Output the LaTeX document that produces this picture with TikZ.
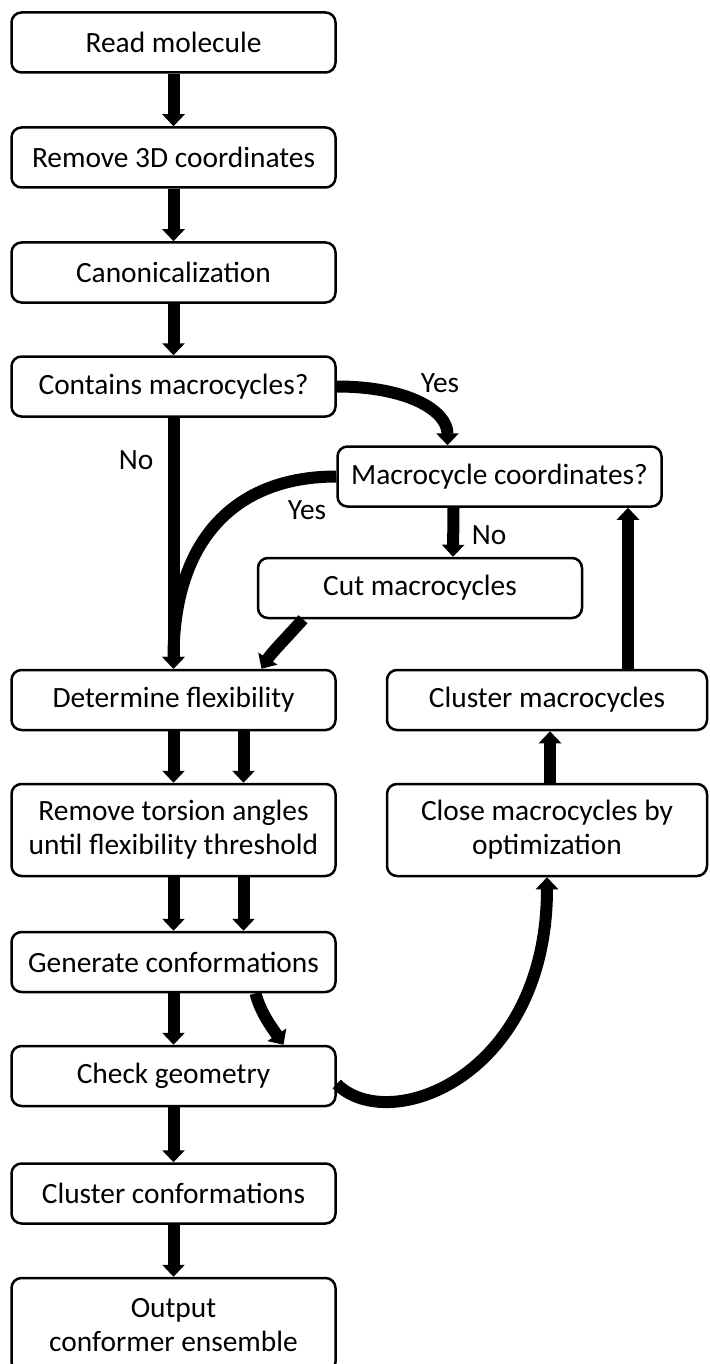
\documentclass[tikz,border=0pt]{standalone}
\usepackage{fontspec}
\setmainfont{Carlito}
\usetikzlibrary{arrows.meta}

\begin{document}
\begin{tikzpicture}[x=0.5pt,y=-0.5pt]
    \useasboundingbox (0,0) rectangle (710,1364);

    \begin{scope}[every node/.style={draw, line width=1.25pt, rounded corners=5pt,
                  minimum width=162pt, minimum height=30pt, inner sep=0pt,
                  align=center, font=\fontsize{14.7}{17}\selectfont}]
        \node (read) at (173.5,42.5) {Read molecule};
        \node (rem3d) at (173.5,157.5) {Remove 3D coordinates};
        \node (canon) at (173.5,272.5) {Canonicalization};
        \node (contains) at (173.5,386.5) {Contains macrocycles?};
        \node (mcoord) at (499.5,476.5) {Macrocycle coordinates?};
        \node (cut) at (420,588) {Cut macrocycles};
        \node (detflex) at (173.5,700) {Determine flexibility};
        \node[minimum width=160pt] (clmac) at (547,700) {Cluster macrocycles};
        \node[minimum height=46pt] (remtor) at (173.5,830) {Remove torsion angles\\until flexibility threshold};
        \node[minimum width=160pt, minimum height=46pt] (close) at (547,830) {Close macrocycles by\\optimization};
        \node (gen) at (173.5,962) {Generate conformations};
        \node (check) at (173.5,1076) {Check geometry};
        \node (clconf) at (173.5,1193.5) {Cluster conformations};
        \node[minimum height=47pt] (output) at (173.5,1325) {Output\\conformer ensemble};
    \end{scope}

    \begin{scope}[every node/.style={font=\fontsize{14.7}{17}\selectfont}]
        \node (yesa) at (440,383) {Yes};
        \node (noa) at (136,460) {No};
        \node (yesb) at (307,510) {Yes};
        \node (nob) at (489,535) {No};
    \end{scope}

    \begin{scope}[>={Triangle[width=11pt,length=6pt]},
                  every edge/.style={draw=black,line width=6pt}]
        \path [->] (read) edge (rem3d);
        \path [->] (rem3d) edge (canon);
        \path [->] (canon) edge (contains);
        \path [->] (contains) edge (detflex);
        \path [->] (detflex) edge (remtor);
        \path [->] ([xshift=35pt]detflex.south) edge ([xshift=35pt]remtor.north);
        \path [->] (remtor) edge (gen);
        \path [->] ([xshift=35pt]remtor.south) edge ([xshift=35pt]gen.north);
        \path [->] (gen) edge (check);
        \path [->] (check) edge (clconf);
        \path [->] (clconf) edge (output);
        \path [->] ([xshift=1.5pt]close.north) edge ([xshift=1.5pt]clmac.south);
        \path [->] ([xshift=40.5pt]clmac.north) edge ([xshift=64.25pt]mcoord.south);
        \path [->] ([xshift=-23pt]mcoord.south) edge ([xshift=16.5pt]cut.north);

        \draw [->,line width=6pt] (contains.east) .. controls +(70,0) and +(0,-35) .. ([xshift=-26pt]mcoord.north);
        \draw [->,line width=6pt] (mcoord.west) .. controls +(-100,0) and +(0,-130) .. (detflex.north);
        \draw [->,line width=6pt] ([xshift=-58.5pt]cut.south) .. controls +(-18,20) and +(10,-16) .. ([xshift=44pt]detflex.north);
        \draw [->,line width=6pt] ([xshift=41pt]gen.south) .. controls +(5,20) and +(-10,-15) .. ([xshift=55pt]check.north);
        \draw [->,line width=6pt] ([yshift=-4pt]check.east) .. controls +(52,52) and +(0,200) .. (close.south);
    \end{scope}
\end{tikzpicture}
\end{document}
